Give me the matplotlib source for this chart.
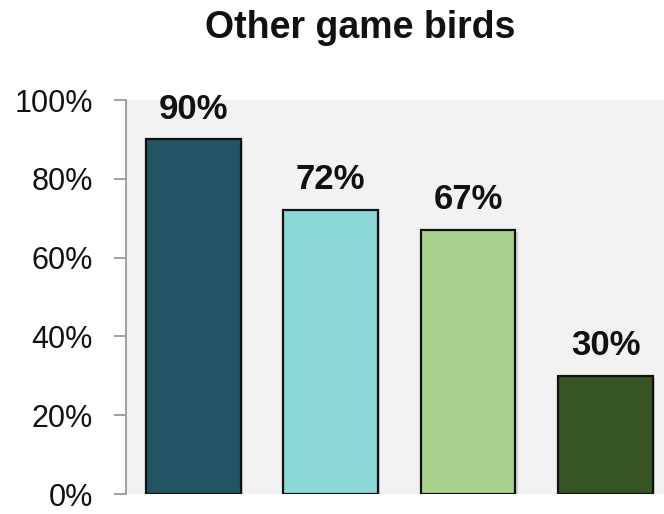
import matplotlib
matplotlib.use("Agg")
import matplotlib.pyplot as plt
import matplotlib.patheffects as pe
from matplotlib.ticker import FixedLocator, FuncFormatter

categories = ["A", "B", "C", "D"]
values = [90, 72, 67, 30]
colors = ["#215563", "#8ad8d8", "#a9d18e", "#375423"]
yticks = [0, 20, 40, 60, 80, 100]

plt.rcParams["font.family"] = ["Liberation Sans", "DejaVu Sans"]

fig = plt.figure(figsize=(6.64, 5.14), dpi=100)
ax = fig.add_axes([126 / 664, 20 / 514, 1 - 126 / 664, 394 / 514])
ax.set_facecolor("#f2f2f2")

x = list(range(len(categories)))
bars = ax.bar(x, values, width=0.69, color=colors, edgecolor="#111111",
              linewidth=1.6, zorder=3)
for b in bars:
    b.set_path_effects([pe.SimplePatchShadow(offset=(1.5, -1.5), alpha=0.15),
                        pe.Normal()])

for xi, v in zip(x, values):
    ax.annotate(f"{v}%", (xi, v), xytext=(0, 15), textcoords="offset points",
                ha="center", va="baseline", fontsize=25, fontweight="bold",
                color="#111111")

ax.set_xlim(-0.49, 3.426)
ax.set_ylim(0, 100)
ax.yaxis.set_major_locator(FixedLocator(yticks))
ax.yaxis.set_major_formatter(FuncFormatter(lambda v, p: f"{v:.0f}%"))
ax.set_xticks([])

for s in ["top", "right", "bottom"]:
    ax.spines[s].set_visible(False)
ax.spines["left"].set_color("#999999")
ax.spines["left"].set_linewidth(1.3)
ax.tick_params(axis="y", direction="out", length=9, width=1.3, color="#999999",
               labelsize=22, labelcolor="#111111", pad=15)

fig.text(360.5 / 664, 1 - 38 / 514, "Other game birds", ha="center",
         va="baseline", fontsize=27, fontweight="bold", color="#111111")

fig.savefig("out.png", dpi=100)
